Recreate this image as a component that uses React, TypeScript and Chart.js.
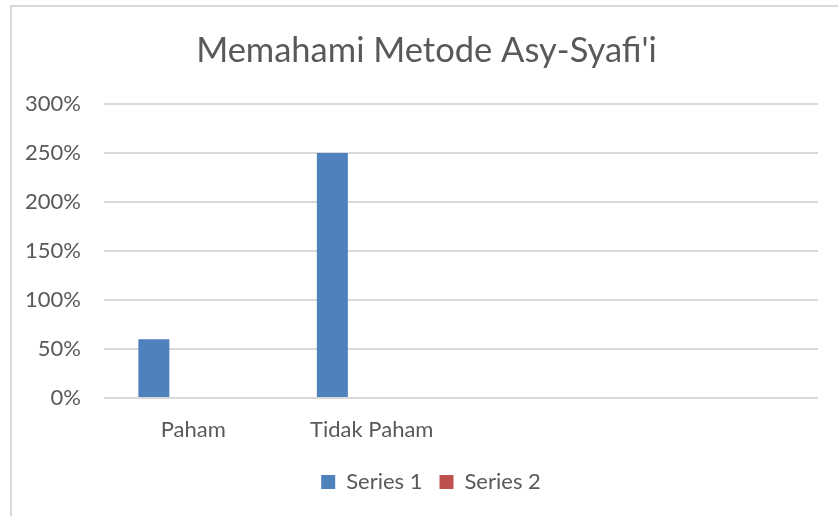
import React, { useEffect, useRef } from "react";
import { Chart, registerables } from "chart.js";

Chart.register(...registerables);

const categories = ["Paham", "Tidak Paham", "", ""];
const series1 = [60, 250, null, null];
const series2 = [null, null, null, null];
const series3 = [null, null, null, null];
const seriesNames = ["Series 1", "Series 2", "Series 3"];
const yTicks = { min: 0, max: 300, step: 50 };
const titleText = "Memahami Metode Asy-Syafi'i";

const FONT = "Lato, 'Open Sans', sans-serif";
const TEXT = "#595959";
const GRID = "#D9D9D9";

const framePlugin = {
  id: "frame",
  afterLayout(chart: any) {
    const t = chart.titleBlock;
    if (t) {
      t.left += 5.5;
      t.right += 5.5;
    }
    const l = chart.legend;
    if (l) {
      l.left += 10;
      l.right += 10;
    }
  },
  beforeDraw(chart: any) {
    const ctx = chart.ctx;
    ctx.save();
    ctx.fillStyle = "#ffffff";
    ctx.fillRect(0, 0, chart.width, chart.height);
    ctx.strokeStyle = GRID;
    ctx.lineWidth = 2;
    ctx.strokeRect(11, 6, 2000, 2000);
    ctx.restore();
  },
};

export default function App() {
  const ref = useRef<HTMLCanvasElement>(null);
  useEffect(() => {
    if (!ref.current) return;
    const chart = new Chart(ref.current, {
      type: "bar",
      data: {
        labels: categories,
        datasets: [
          { label: seriesNames[0], data: series1, backgroundColor: "#4F81BD" },
          { label: seriesNames[1], data: series2, backgroundColor: "#C0504D" },
          { label: seriesNames[2], data: series3, backgroundColor: "#9BBB59" },
        ],
      },
      options: {
        responsive: false,
        animation: false,
        devicePixelRatio: 1,
        layout: { padding: { left: 24, right: 20, top: 0, bottom: 13 } },
        datasets: {
          bar: { categoryPercentage: 0.662, barPercentage: 0.787 },
        },
        plugins: {
          tooltip: { enabled: false },
          title: {
            display: true,
            text: titleText,
            color: TEXT,
            font: { family: FONT, size: 34.5, weight: "normal", lineHeight: 1.2 },
            padding: { top: 30.3, bottom: 32.3 },
          },
          legend: {
            position: "bottom",
            labels: {
              color: TEXT,
              font: { family: FONT, size: 22 },
              boxWidth: 14,
              boxHeight: 14,
              padding: 17,
              filter: (item: any) => item.datasetIndex < 2,
            },
          },
        },
        scales: {
          x: {
            grid: { display: false, drawTicks: false },
            border: { display: false },
            ticks: {
              color: TEXT,
              font: { family: FONT, size: 22 },
              padding: 19,
              maxRotation: 0,
              autoSkip: false,
            },
            afterFit(scale: any) {
              scale.height = 56;
            },
          },
          y: {
            min: yTicks.min,
            max: yTicks.max,
            grid: { color: GRID, lineWidth: 2, drawTicks: false },
            border: { display: false },
            ticks: {
              stepSize: yTicks.step,
              color: TEXT,
              font: { family: FONT, size: 22 },
              padding: 23,
              callback: (v: any) => v + "%",
            },
            afterFit(scale: any) {
              scale.width = 80;
            },
          },
        },
      },
      plugins: [framePlugin],
    });
    return () => chart.destroy();
  }, []);
  return (
    <div style={{ position: "absolute", left: 0, top: 0, width: 838, height: 516 }}>
      <canvas ref={ref} width={838} height={516} />
    </div>
  );
}
